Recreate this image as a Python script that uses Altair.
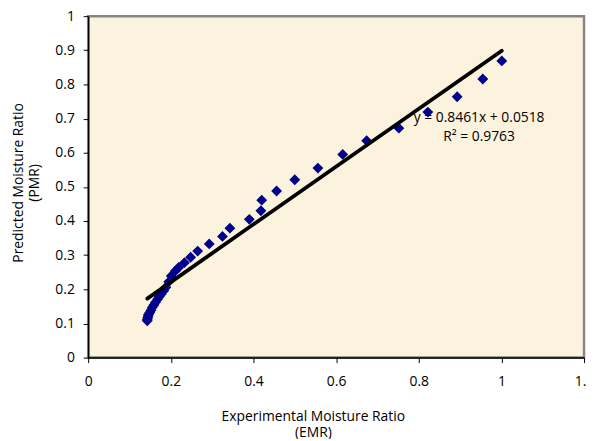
import altair as alt
import pandas as pd

# Experimental (EMR) vs predicted (PMR) moisture ratio
emr = [1.001, 0.955, 0.893, 0.822, 0.752, 0.674, 0.616, 0.556, 0.500, 0.456,
       0.420, 0.418, 0.390, 0.343, 0.325, 0.293, 0.265, 0.248, 0.233, 0.219,
       0.211, 0.201, 0.195, 0.188, 0.183, 0.177, 0.172, 0.168, 0.163, 0.159,
       0.155, 0.152, 0.149, 0.146, 0.145, 0.144, 0.143, 0.143]
pmr = [0.869, 0.816, 0.764, 0.719, 0.672, 0.635, 0.595, 0.555, 0.521, 0.488,
       0.461, 0.430, 0.405, 0.379, 0.355, 0.333, 0.312, 0.294, 0.278, 0.264,
       0.254, 0.239, 0.222, 0.206, 0.196, 0.186, 0.179, 0.171, 0.162, 0.154,
       0.147, 0.139, 0.132, 0.126, 0.121, 0.116, 0.111, 0.108]

slope = 0.8461
intercept = 0.0518
r2 = 0.9763

x_ticks = [0, 0.2, 0.4, 0.6, 0.8, 1.0, 1.2]
y_ticks = [0, 0.1, 0.2, 0.3, 0.4, 0.5, 0.6, 0.7, 0.8, 0.9, 1.0]

pts = pd.DataFrame({"EMR": emr, "PMR": pmr})
xl = [min(emr), max(emr)]
trend = pd.DataFrame({"EMR": xl, "PMR": [slope * v + intercept for v in xl]})
eq_text = f"y = {slope}x + {intercept}"
r2_text = f"R\u00b2 = {r2}"

FONT = "Open Sans"
FS = 14

xscale = alt.Scale(domain=[0, 1.2], nice=False, zero=False)
yscale = alt.Scale(domain=[0, 1], nice=False, zero=False)

xaxis = alt.Axis(values=x_ticks, format="~g", grid=False, domainColor="black",
                 domainWidth=1.5, tickColor="black", tickSize=5, labelPadding=12,
                 labelFont=FONT, labelFontSize=FS, labelColor="black",
                 title=["Experimental Moisture Ratio", "(EMR)"], titleFont=FONT,
                 titleFontSize=FS, titleFontWeight="normal", titleColor="black",
                 titleX=227, titleY=64, titleAlign="center",
                 titleBaseline="alphabetic", titleLineHeight=16,
                 labelFlush=False, labelOverlap=False)
yaxis = alt.Axis(values=y_ticks, format="~g", grid=False, domainColor="black",
                 domainWidth=1.5, tickColor="black", tickSize=5, labelPadding=9,
                 labelFont=FONT, labelFontSize=FS, labelColor="black",
                 title=["Predicted Moisture Ratio", "(PMR)"], titleFont=FONT,
                 titleFontSize=FS, titleFontWeight="normal", titleColor="black",
                 titleX=-66, titleY=168, titleAngle=-90, titleAlign="center",
                 titleBaseline="alphabetic", titleLineHeight=16,
                 labelFlush=False, labelOverlap=False)

points = alt.Chart(pts).mark_point(shape="diamond", filled=True, color="#00008B",
                                   size=120, opacity=1).encode(
    x=alt.X("EMR:Q", scale=xscale, axis=xaxis),
    y=alt.Y("PMR:Q", scale=yscale, axis=yaxis),
)

line = alt.Chart(trend).mark_line(color="black", strokeWidth=3.8,
                                  strokeCap="round").encode(
    x=alt.X("EMR:Q", scale=xscale, axis=xaxis),
    y=alt.Y("PMR:Q", scale=yscale, axis=yaxis),
)

eq = alt.Chart().mark_text(font=FONT, fontSize=FS, color="black", align="center",
                           baseline="middle", text=eq_text).encode(
    x=alt.value(395), y=alt.value(103))
r2t = alt.Chart().mark_text(font=FONT, fontSize=FS, color="black", align="center",
                            baseline="middle", text=r2_text).encode(
    x=alt.value(395), y=alt.value(122))

chart = alt.layer(points, line, eq, r2t).properties(
    width=501, height=345,
    autosize=alt.AutoSizeParams(type="none"),
    padding={"left": 81, "top": 6, "right": 3, "bottom": 80},
    background="white",
).configure_view(fill="#FCF3DE", stroke="#858585", strokeWidth=2.5
).configure_axis(labelOverlap=False)

chart.save("out.html", embed_options={"renderer": "svg", "actions": False})
